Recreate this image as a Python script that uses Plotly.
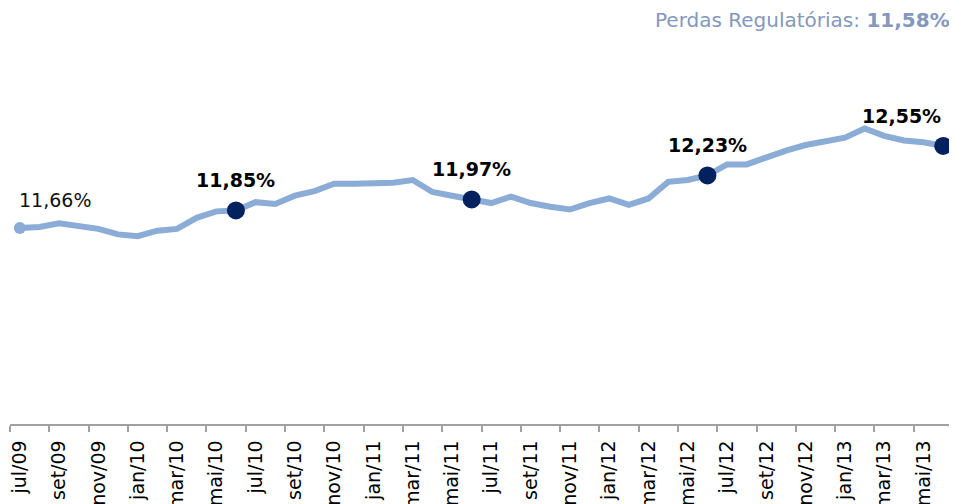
import plotly.graph_objects as go

months = ["jul/09", "ago/09", "set/09", "out/09", "nov/09", "dez/09",
          "jan/10", "fev/10", "mar/10", "abr/10", "mai/10", "jun/10",
          "jul/10", "ago/10", "set/10", "out/10", "nov/10", "dez/10",
          "jan/11", "fev/11", "mar/11", "abr/11", "mai/11", "jun/11",
          "jul/11", "ago/11", "set/11", "out/11", "nov/11", "dez/11",
          "jan/12", "fev/12", "mar/12", "abr/12", "mai/12", "jun/12",
          "jul/12", "ago/12", "set/12", "out/12", "nov/12", "dez/12",
          "jan/13", "fev/13", "mar/13", "abr/13", "mai/13", "jun/13"]

perdas = [11.66, 11.67, 11.71, 11.68, 11.65, 11.59,
          11.57, 11.63, 11.65, 11.77, 11.84, 11.85,
          11.94, 11.92, 12.01, 12.06, 12.14, 12.14,
          12.15, 12.15, 12.18, 12.05, 12.01, 11.97,
          11.93, 12.00, 11.93, 11.89, 11.86, 11.93,
          11.98, 11.91, 11.98, 12.16, 12.18, 12.23,
          12.35, 12.35, 12.43, 12.50, 12.56, 12.60,
          12.64, 12.74, 12.66, 12.61, 12.59, 12.55]

highlight_months = ["jun/10", "jun/11", "jun/12", "jun/13"]
highlight_values = [11.85, 11.97, 12.23, 12.55]
highlight_labels = ["11,85%", "11,97%", "12,23%", "12,55%"]

first_label = "11,66%"
title_text = "Perdas Regulatórias: "
title_value = "11,58%"

LINE = "#8BACD6"
NAVY = "#03215E"
FONT = "DejaVu Sans"

fig = go.Figure()
fig.add_trace(go.Scatter(
    x=months, y=perdas, mode="lines",
    line=dict(color=LINE, width=6),
    hoverinfo="skip", showlegend=False))
fig.add_trace(go.Scatter(
    x=[months[0]], y=[perdas[0]], mode="markers",
    marker=dict(color=LINE, size=12),
    hoverinfo="skip", showlegend=False))
fig.add_trace(go.Scatter(
    x=highlight_months, y=highlight_values, mode="markers",
    marker=dict(color=NAVY, size=18),
    hoverinfo="skip", showlegend=False))

annotations = [dict(
    x=months[0], y=perdas[0], text=first_label, showarrow=False,
    xanchor="left", yanchor="middle", xshift=-3, yshift=28,
    font=dict(family=FONT, size=19, color="#111111"))]
for i, (m, v, t) in enumerate(zip(highlight_months, highlight_values, highlight_labels)):
    last = i == len(highlight_months) - 1
    annotations.append(dict(
        x=m, y=v, text="<b>" + t + "</b>", showarrow=False,
        xanchor="right" if last else "center", yanchor="middle",
        yshift=30, font=dict(family=FONT, size=19, color="#000000")))
annotations.append(dict(
    xref="paper", yref="paper", x=1, y=1, xanchor="right", yanchor="middle",
    xshift=-1, yshift=20, showarrow=False,
    text=title_text + "<b>" + title_value + "</b>",
    font=dict(family=FONT, size=20, color="#8497BD")))

fig.update_layout(
    width=957, height=504,
    margin=dict(l=2, r=12, t=32, b=88),
    paper_bgcolor="white", plot_bgcolor="white",
    annotations=annotations,
    xaxis=dict(
        type="category", range=[-0.5, 47.5],
        tickmode="linear", tick0=0, dtick=2,
        tickson="boundaries", ticks="outside", ticklen=6,
        tickcolor="#A0A0A0", tickwidth=1.5,
        showline=True, linecolor="#A0A0A0", linewidth=1.5,
        showgrid=False, zeroline=False, tickangle=-90,
        ticklabelstandoff=7, automargin=False,
        tickfont=dict(family=FONT, size=19, color="#000000")),
    yaxis=dict(range=[9.532, 13.70], visible=False, showgrid=False),
)

fig.write_html("out.html")
